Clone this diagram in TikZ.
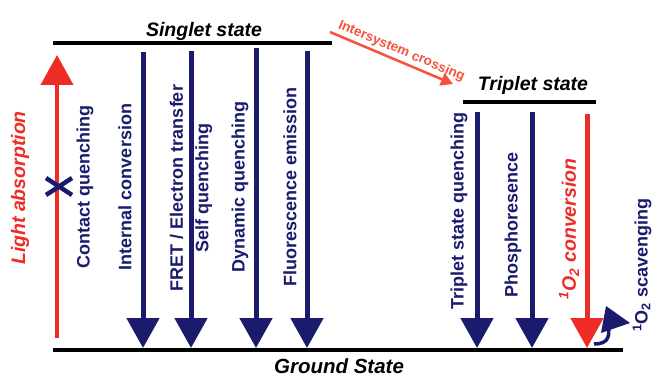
\documentclass[tikz,border=0pt]{standalone}
\usepackage{fontspec}
\setmainfont{Liberation Sans}
\usetikzlibrary{arrows.meta}
\definecolor{decaynavy}{RGB}{27,27,110}
\definecolor{excitered}{RGB}{238,43,36}
\definecolor{iscred}{RGB}{246,82,60}

\begin{document}
\begin{tikzpicture}[x=1pt,y=-1pt,
		level/.style={line width=4pt},
		decay/.style={decaynavy, line width=5pt, -{Triangle[length=30pt,width=32pt]}},
		pathlabel/.style={rotate=90, text=decaynavy, inner sep=0pt, align=center,
			font=\fontsize{18}{21}\selectfont\bfseries},
		redlabel/.style={pathlabel, text=excitered, font=\fontsize{19.5}{21}\selectfont\bfseries\itshape},
		title/.style={anchor=base, inner sep=0pt, font=\fontsize{19.5}{22}\selectfont\bfseries\itshape}]
		
		\useasboundingbox (0,0) rectangle (654,377);
		
		% energy levels
		\coordinate (singlet west) at (53,43);
		\coordinate (singlet east) at (332,43);
		\coordinate (triplet west) at (463,102);
		\coordinate (triplet east) at (596,102);
		\coordinate (ground west) at (53,350);
		\coordinate (ground east) at (623,350);
		\draw[level] (singlet west) -- (singlet east);
		\draw[level] (triplet west) -- (triplet east);
		\draw[level] (ground west) -- (ground east);
		
		\node[title] (singlet) at (204,37) {Singlet state};
		\node[title] (triplet) at (533,91) {Triplet state};
		\node[title, font=\fontsize{20.5}{22}\selectfont\bfseries\itshape] (ground) at (339,373) {Ground State};
		
		% excitation
		\coordinate (abs start) at (57,338);
		\coordinate (abs end) at (57,55);
		\draw[excitered, line width=4pt, -{Triangle[length=30pt,width=32pt]}] (abs start) -- (abs end);
		\node[redlabel] (absorption) at (20,188) {Light absorption};
		
		% blocked path
		\draw[decaynavy, line width=4.5pt] (46,178) -- (72,195) (46,195) -- (72,178);
		\node[pathlabel] (contact) at (85,187) {Contact quenching};
		
		% singlet decay
		\coordinate (ic top) at (143,52);
		\coordinate (ic bottom) at (143,348);
		\coordinate (fret top) at (191,51);
		\coordinate (fret bottom) at (191,348);
		\coordinate (dyn top) at (256,48);
		\coordinate (dyn bottom) at (256,348);
		\coordinate (fl top) at (307,51);
		\coordinate (fl bottom) at (307,348);
		\draw[decay] (ic top) -- (ic bottom);
		\draw[decay] (fret top) -- (fret bottom);
		\draw[decay] (dyn top) -- (dyn bottom);
		\draw[decay] (fl top) -- (fl bottom);
		\node[pathlabel] (internal) at (125,187) {Internal conversion};
		\node[pathlabel, font=\fontsize{18}{25.5}\selectfont\bfseries] (fret) at (191,188) {FRET / Electron transfer\\Self quenching};
		\node[pathlabel] (dynamic) at (240,187) {Dynamic quenching};
		\node[pathlabel] (fluorescence) at (290,187) {Fluorescence emission};
		
		% intersystem crossing
		\coordinate (isc start) at (330,32);
		\coordinate (isc end) at (453,84);
		\draw[iscred, line width=2.5pt, -{Triangle[length=12pt,width=13pt]}] (isc start) -- (isc end)
			node[pos=0.55, sloped, above=2.5pt, inner sep=0pt, text=iscred, font=\fontsize{13.5}{15}\selectfont\bfseries] (isc) {Intersystem crossing};
		
		% triplet decay
		\coordinate (tq top) at (477,112);
		\coordinate (tq bottom) at (477,348);
		\coordinate (ph top) at (532,112);
		\coordinate (ph bottom) at (532,348);
		\coordinate (oxy top) at (587,114);
		\coordinate (oxy bottom) at (587,348);
		\draw[decay] (tq top) -- (tq bottom);
		\draw[decay] (ph top) -- (ph bottom);
		\draw[decay, excitered] (oxy top) -- (oxy bottom);
		\node[pathlabel] (tquench) at (459,211) {Triplet state quenching};
		\node[pathlabel] (phosph) at (513,225) {Phosphoresence};
		\node[redlabel] (conversion) at (569,229) {\textsuperscript{1}O\textsubscript{2}  conversion};
		
		% scavenging
		\draw[decaynavy, line width=3.5pt] (594,344) .. controls (609,344) and (611,336) .. (607,320);
		\fill[decaynavy] (606,306) -- (630,323) -- (601,333) -- cycle;
		\node[pathlabel] (scavenging) at (642,265) {\textsuperscript{1}O\textsubscript{2} scavenging};
		
	\end{tikzpicture}
\end{document}
